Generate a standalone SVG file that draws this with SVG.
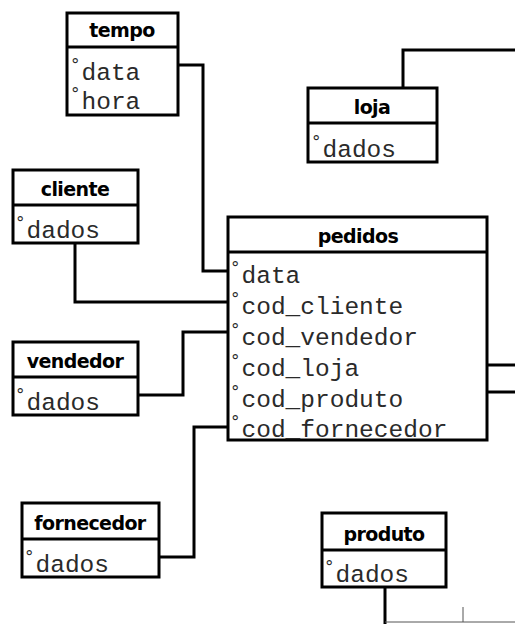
<svg xmlns="http://www.w3.org/2000/svg" width="515" height="624" viewBox="0 0 515 624">
<style>
.box{fill:#fff;stroke:#000;stroke-width:3}
.div{stroke:#000;stroke-width:3}
.h{font-family:"DejaVu Sans",sans-serif;font-weight:bold;font-size:19px;fill:#000;text-anchor:middle;letter-spacing:-0.6px}
.a{font-family:"Liberation Mono",monospace;font-size:24.5px;fill:#2a2a2a}
.deg{font-family:"DejaVu Sans",sans-serif;font-size:17px}
.c{fill:none;stroke:#000;stroke-width:3}
.t{fill:none;stroke:#555;stroke-width:1}
</style>
<rect width="515" height="624" fill="#fff"/>
<g id="connectors">
<polyline class="c" points="178,65 203,65 203,271 228,271"/>
<polyline class="c" points="75,243 75,302 228,302"/>
<polyline class="c" points="138,395 183,395 183,332 228,332"/>
<polyline class="c" points="159,557 194,557 194,427 228,427"/>
<polyline class="c" points="487,365 515,365"/>
<polyline class="c" points="487,392 515,392"/>
<polyline class="c" points="403,88 403,50 515,50"/>
<polyline class="c" points="385,587 385,624"/>
<polyline class="t" points="385,622 515,622"/>
<polyline class="t" points="463,607 463,622"/>
</g>
<g id="tempo">
<rect class="box" x="67" y="13" width="111" height="102"/>
<line class="div" x1="67" y1="47" x2="178" y2="47"/>
<text class="h" x="122" y="37">tempo</text>
<text class="a" x="71" y="80"><tspan class="deg" dy="-9">°</tspan><tspan dy="9" dx="2">data</tspan></text>
<text class="a" x="71" y="109"><tspan class="deg" dy="-9">°</tspan><tspan dy="9" dx="2">hora</tspan></text>
</g>
<g id="loja">
<rect class="box" x="308" y="88" width="129" height="74"/>
<line class="div" x1="308" y1="123" x2="437" y2="123"/>
<text class="h" x="372" y="114">loja</text>
<text class="a" x="312" y="157"><tspan class="deg" dy="-9">°</tspan><tspan dy="9" dx="2">dados</tspan></text>
</g>
<g id="cliente">
<rect class="box" x="13" y="170" width="125" height="73"/>
<line class="div" x1="13" y1="205" x2="138" y2="205"/>
<text class="h" x="75" y="196">cliente</text>
<text class="a" x="16" y="238"><tspan class="deg" dy="-9">°</tspan><tspan dy="9" dx="2">dados</tspan></text>
</g>
<g id="pedidos">
<rect class="box" x="228" y="217" width="259" height="223"/>
<line class="div" x1="228" y1="252" x2="487" y2="252"/>
<text class="h" x="358" y="243">pedidos</text>
<text class="a" x="231" y="283"><tspan class="deg" dy="-9">°</tspan><tspan dy="9" dx="2">data</tspan></text>
<text class="a" x="231" y="314"><tspan class="deg" dy="-9">°</tspan><tspan dy="9" dx="2">cod_cliente</tspan></text>
<text class="a" x="231" y="345"><tspan class="deg" dy="-9">°</tspan><tspan dy="9" dx="2">cod_vendedor</tspan></text>
<text class="a" x="231" y="376"><tspan class="deg" dy="-9">°</tspan><tspan dy="9" dx="2">cod_loja</tspan></text>
<text class="a" x="231" y="407"><tspan class="deg" dy="-9">°</tspan><tspan dy="9" dx="2">cod_produto</tspan></text>
<text class="a" x="231" y="437"><tspan class="deg" dy="-9">°</tspan><tspan dy="9" dx="2">cod_fornecedor</tspan></text>
</g>
<g id="vendedor">
<rect class="box" x="13" y="342" width="125" height="73"/>
<line class="div" x1="13" y1="377" x2="138" y2="377"/>
<text class="h" x="75" y="368">vendedor</text>
<text class="a" x="16" y="410"><tspan class="deg" dy="-9">°</tspan><tspan dy="9" dx="2">dados</tspan></text>
</g>
<g id="fornecedor">
<rect class="box" x="22" y="503" width="137" height="74"/>
<line class="div" x1="22" y1="539" x2="159" y2="539"/>
<text class="h" x="90" y="530">fornecedor</text>
<text class="a" x="25" y="572"><tspan class="deg" dy="-9">°</tspan><tspan dy="9" dx="2">dados</tspan></text>
</g>
<g id="produto">
<rect class="box" x="322" y="513" width="124" height="74"/>
<line class="div" x1="322" y1="550" x2="446" y2="550"/>
<text class="h" x="384" y="541">produto</text>
<text class="a" x="325" y="582"><tspan class="deg" dy="-9">°</tspan><tspan dy="9" dx="2">dados</tspan></text>
</g>
</svg>
